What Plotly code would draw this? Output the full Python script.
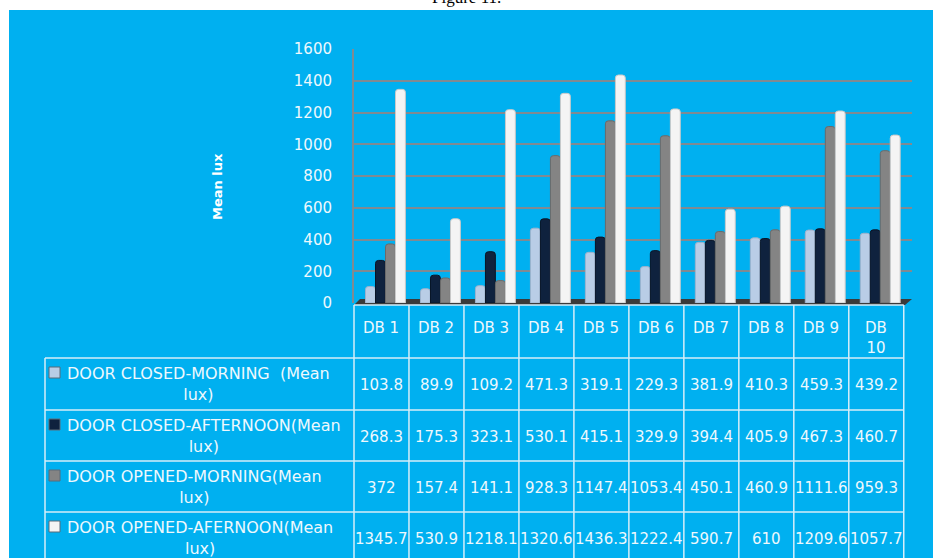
import plotly.graph_objects as go

# ---------------- data ----------------
categories = ["DB 1", "DB 2", "DB 3", "DB 4", "DB 5", "DB 6", "DB 7", "DB 8", "DB 9", "DB 10"]
series_names = [
    "DOOR CLOSED-MORNING &nbsp;(Mean<br>lux)",
    "DOOR CLOSED-AFTERNOON(Mean<br>lux)",
    "DOOR OPENED-MORNING(Mean<br>lux)",
    "DOOR OPENED-AFERNOON(Mean<br>lux)",
]
closed_morning = [103.8, 89.9, 109.2, 471.3, 319.1, 229.3, 381.9, 410.3, 459.3, 439.2]
closed_afternoon = [268.3, 175.3, 323.1, 530.1, 415.1, 329.9, 394.4, 405.9, 467.3, 460.7]
opened_morning = [372, 157.4, 141.1, 928.3, 1147.4, 1053.4, 450.1, 460.9, 1111.6, 959.3]
opened_afternoon = [1345.7, 530.9, 1218.1, 1320.6, 1436.3, 1222.4, 590.7, 610, 1209.6, 1057.7]
y_ticks = [0, 200, 400, 600, 800, 1000, 1200, 1400, 1600]
y_title = "Mean lux"
fig_caption = "Figure 11."

series_values = [closed_morning, closed_afternoon, opened_morning, opened_afternoon]
bar_colors = ["#B9CDE6", "#0F223E", "#848484", "#F4F4F4"]
bar_edges = ["#9DB2CC", "#081426", "#6A6A6A", "#C9C9C9"]

# ---------------- geometry ----------------
W, H = 933, 558
L, R, T, B = 354, 912, 49, 303
X_MIN, X_MAX = -0.5, 9.65
BG = "#00B0F0"
TXT = "#EEF8FD"
GRID = "#808A92"
TABLE_LINE = "#D6EEF9"
FONT = "DejaVu Sans"


def px_x(px):
    return (px - L) / (R - L)


def px_y(py):
    return (B - py) / (B - T)


def cat_x(v):
    return (v - X_MIN) / (X_MAX - X_MIN)


fig = go.Figure()

bar_w = 0.18
offsets = [-0.291, -0.109, 0.073, 0.255]
for name, vals, col, edge, off in zip(series_names, series_values, bar_colors, bar_edges, offsets):
    fig.add_trace(go.Bar(
        x=list(range(len(categories))), y=vals, name=name.replace("<br>", " "),
        width=bar_w, offset=off,
        marker=dict(color=col, line=dict(color=edge, width=1), cornerradius=3),
        showlegend=False,
    ))

shapes = []
# blue background panel
shapes.append(dict(type="rect", xref="paper", yref="paper", layer="below",
                   x0=px_x(9), x1=px_x(W + 2), y0=px_y(H + 2), y1=px_y(10),
                   fillcolor=BG, line=dict(width=0)))
# floor
fx = [px_x(354), px_x(905), px_x(912), px_x(360)]
fy = [px_y(305), px_y(305), px_y(299), px_y(299)]
shapes.append(dict(type="path", xref="paper", yref="paper", layer="below",
                   path=f"M {fx[0]},{fy[0]} L {fx[1]},{fy[1]} L {fx[2]},{fy[2]} L {fx[3]},{fy[3]} Z",
                   fillcolor="#3A3A3A", line=dict(width=0)))

# table lines
n = len(categories)
table_left = px_x(45)
table_right = cat_x(n - 0.5)
row_edges = [358, 410, 461, 512]
line_style = dict(color=TABLE_LINE, width=1.5)
shapes.append(dict(type="line", xref="paper", yref="paper", x0=cat_x(-0.5), x1=table_right,
                   y0=px_y(305), y1=px_y(305), line=line_style))
for ry in row_edges:
    shapes.append(dict(type="line", xref="paper", yref="paper", x0=table_left, x1=table_right,
                       y0=px_y(ry), y1=px_y(ry), line=line_style))
for i in range(n + 1):
    xv = cat_x(i - 0.5)
    shapes.append(dict(type="line", xref="paper", yref="paper", x0=xv, x1=xv,
                       y0=px_y(305), y1=px_y(H + 5), line=line_style))
shapes.append(dict(type="line", xref="paper", yref="paper", x0=table_left, x1=table_left,
                   y0=px_y(358), y1=px_y(H + 5), line=line_style))

annotations = []
# caption (cut at top, as in the source page)
annotations.append(dict(text=fig_caption, xref="paper", yref="paper", x=px_x(466), y=px_y(9),
                        xanchor="center", yanchor="bottom", showarrow=False,
                        font=dict(family="Liberation Serif", size=17, color="#000000")))
# y title
annotations.append(dict(text=f"<b>{y_title}</b>", xref="paper", yref="paper", x=px_x(218), y=px_y(187),
                        textangle=-90, showarrow=False, xanchor="center", yanchor="middle",
                        font=dict(family=FONT, size=13, color="#FFFFFF")))
# header labels
for i, c in enumerate(categories):
    label = c if len(c) <= 4 else c.replace(" ", "<br>")
    annotations.append(dict(text=label, xref="paper", yref="paper", x=cat_x(i), y=px_y(317),
                            xanchor="center", yanchor="top", showarrow=False,
                            font=dict(family=FONT, size=15, color=TXT)))
# rows
row_bounds = row_edges + [563]
for r, (name, vals) in enumerate(zip(series_names, series_values)):
    cy = (row_bounds[r] + row_bounds[r + 1]) / 2
    annotations.append(dict(text=name, xref="paper", yref="paper", x=px_x(65), y=px_y(cy),
                            xanchor="left", yanchor="middle", showarrow=False, align="center",
                            font=dict(family=FONT, size=16, color=TXT)))
    top = row_bounds[r]
    shapes.append(dict(type="rect", xref="paper", yref="paper",
                       x0=px_x(49), x1=px_x(60), y0=px_y(top + 20), y1=px_y(top + 9),
                       fillcolor=bar_colors[r], line=dict(color="#5A6A78", width=1)))
    for i, v in enumerate(vals):
        annotations.append(dict(text=f"{v:g}", xref="paper", yref="paper", x=cat_x(i), y=px_y(cy + 1),
                                xanchor="center", yanchor="middle", showarrow=False,
                                font=dict(family=FONT, size=15, color=TXT)))

fig.update_layout(
    width=W, height=H,
    margin=dict(l=L, r=W - R, t=T, b=H - B, pad=0),
    paper_bgcolor="#FFFFFF", plot_bgcolor="rgba(0,0,0,0)",
    barmode="overlay",
    shapes=shapes, annotations=annotations,
    xaxis=dict(range=[X_MIN, X_MAX], showticklabels=False, showgrid=False, zeroline=False,
               showline=False, fixedrange=True),
    yaxis=dict(range=[0, 1600], tickvals=y_ticks, showgrid=True, gridcolor=GRID, gridwidth=2,
               zeroline=False, showline=True, linecolor=GRID, linewidth=2,
               ticks="", ticklabelstandoff=17,
               tickfont=dict(family=FONT, size=15, color=TXT)),
    font=dict(family=FONT),
)

fig.write_html("out.html")
